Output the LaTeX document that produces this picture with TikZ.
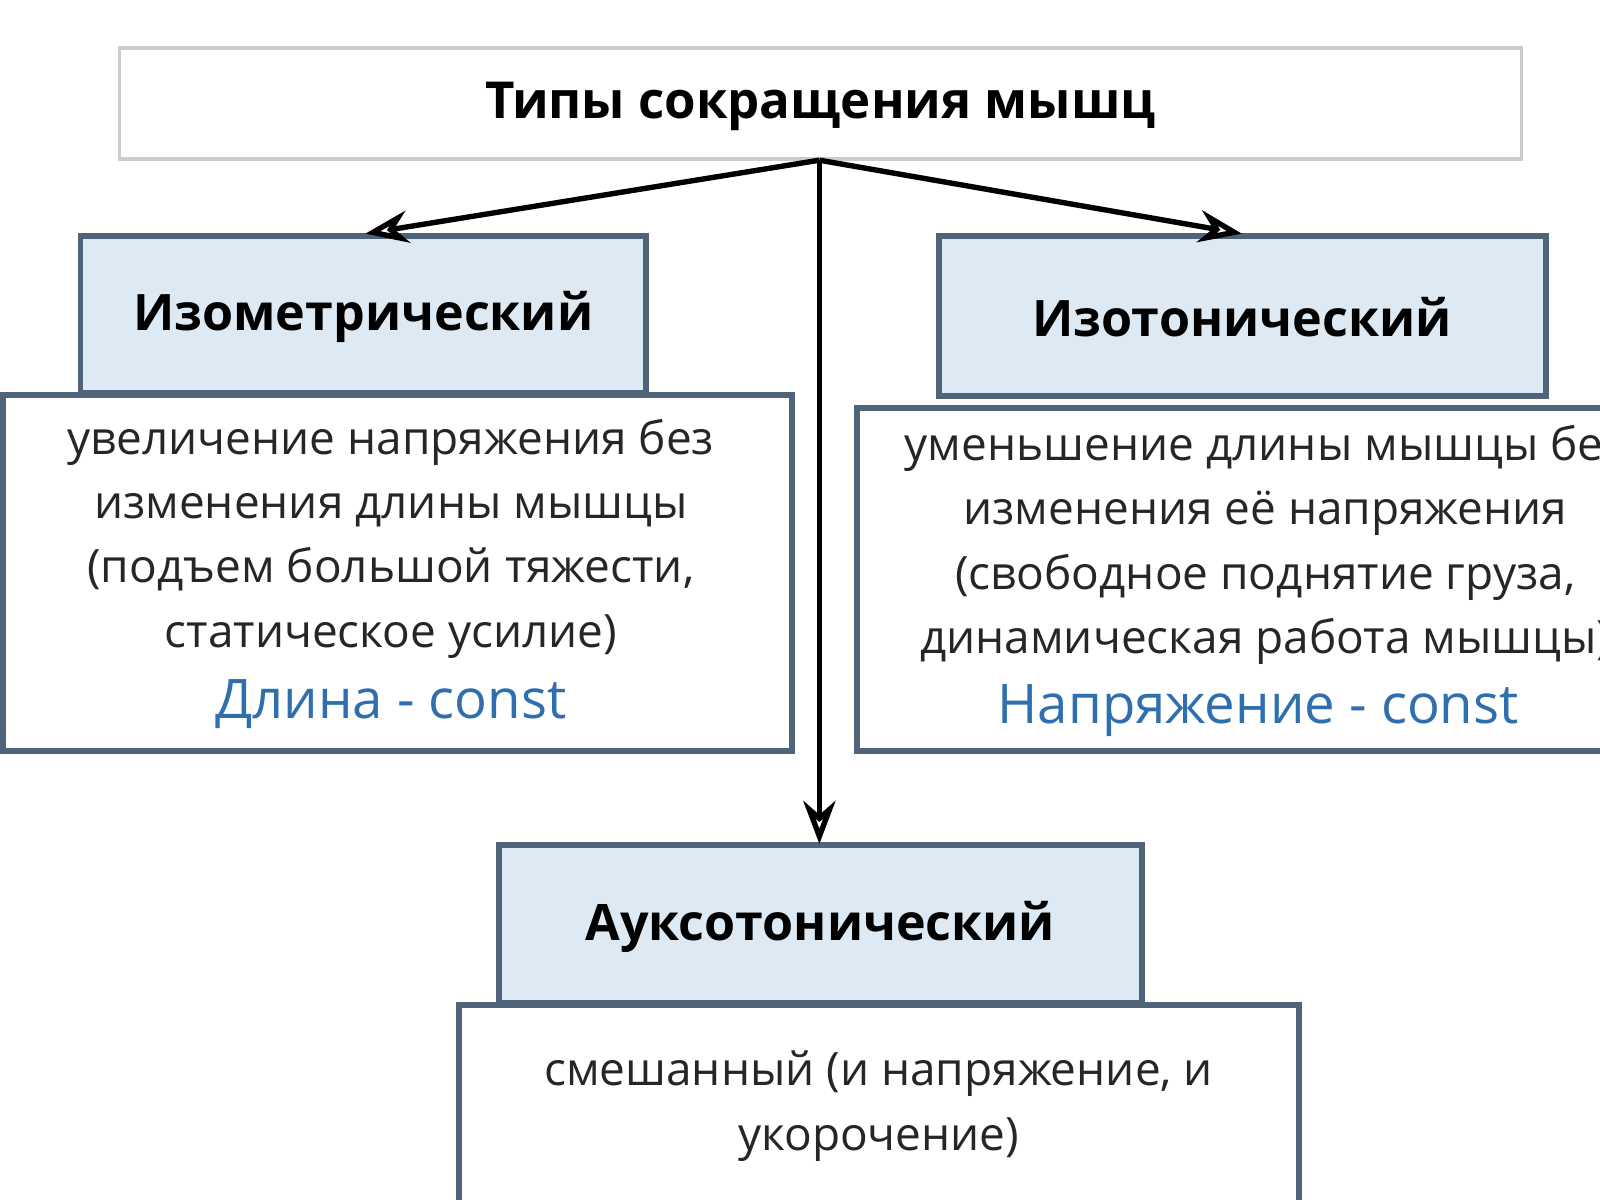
\documentclass[tikz,border=0pt]{standalone}
\usepackage{fontspec}
\setmainfont{Open Sans}
\usetikzlibrary{arrows.meta}
\definecolor{hdr}{HTML}{DDEAF4}
\definecolor{bord}{HTML}{4F6478}
\definecolor{blu}{HTML}{2F6FAE}
\begin{document}
\begin{tikzpicture}[x=0.01cm,y=-0.01cm,
  hbox/.style={draw=bord,line width=1.6pt,fill=hdr},
  bbox/.style={draw=bord,line width=1.6pt,fill=white},
  htxt/.style={font=\fontsize{14}{17}\selectfont\bfseries},
  btxt/.style={align=center,font=\fontsize{12.8}{17.9}\selectfont,text=black!85},
  ctxt/.style={font=\fontsize{15.2}{18}\selectfont,text=blu},
  arr/.style={-{Stealth[length=12pt,width=9pt,open]},line width=1.5pt}]
\useasboundingbox[fill=white] (0,0) rectangle (1568,1176);
\draw[draw=black!20,line width=1pt,fill=white] (117,47) rectangle (1491,156);
\node[font=\fontsize{14.2}{17}\selectfont\bfseries] (t) at (804,104) {Типы сокращения мышц};
\coordinate (s) at (803,157);
% left
\draw[hbox] (79,231) rectangle (633,385);
\node[htxt] (h1) at (356,311) {Изометрический};
\draw[bbox] (3,387) rectangle (776,736);
\node[btxt] (b1) at (383,528) {увеличение напряжения без\\изменения длины мышцы\\(подъем большой тяжести,\\статическое усилие)};
\node[ctxt] (c1) at (383,690) {Длина - const};
% right
\draw[hbox] (920,231) rectangle (1515,388);
\node[htxt] (h2) at (1217,311) {Изотонический};
\draw[bbox] (840,400) rectangle (1600,736);
\node[btxt] (b2) at (1240,534) {уменьшение длины мышцы без\\изменения её напряжения\\(свободное поднятие груза,\\динамическая работа мышцы)};
\node[ctxt] (c2) at (1233,696) {Напряжение - const};
% bottom
\draw[hbox] (489,828) rectangle (1119,983);
\node[htxt] (h3) at (804,908) {Ауксотонический};
\draw[bbox] (450,985) rectangle (1273,1200);
\node[btxt] (b3) at (861,1084) {смешанный (и напряжение, и\\укорочение)};
% arrows
\coordinate (a1) at (358,229);
\coordinate (a2) at (1217,229);
\coordinate (a3) at (803,827);
\draw[arr] (s) -- (a1);
\draw[arr] (s) -- (a2);
\draw[arr] (s) -- (a3);
\end{tikzpicture}
\end{document}
